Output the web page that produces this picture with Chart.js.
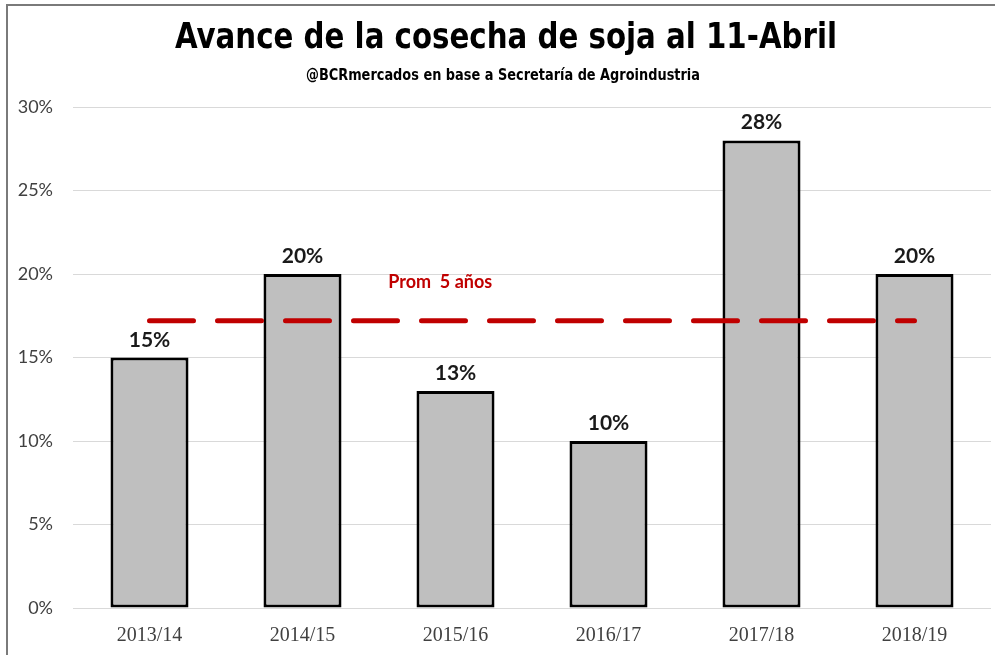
<!DOCTYPE html>
<html>
<head>
<meta charset="utf-8">
<script src="https://cdn.jsdelivr.net/npm/chart.js@4.4.1/dist/chart.umd.min.js"></script>
<style>
    html, body { margin: 0; padding: 0; background: #fff; }
    #wrap { position: relative; width: 995px; height: 655px; }
    #frame { position: absolute; left: 6px; top: 4px; right: -10px; bottom: -10px;
             border-top: 2px solid #7a7a7a; border-left: 2px solid #7a7a7a; pointer-events: none; }
</style>
</head>
<body>
<div id="wrap">
    <canvas id="myChart" width="995" height="655"></canvas>
    <div id="frame"></div>
</div>
<script>
// Campañas y avance de cosecha (%)
const campanias = ['2013/14', '2014/15', '2015/16', '2016/17', '2017/18', '2018/19'];
const avance = [15, 20, 13, 10, 28, 20];
// Promedio de 5 años
const promedio = [17.2, 17.2, 17.2, 17.2, 17.2, 17.2];
const yTicks = [0, 5, 10, 15, 20, 25, 30];

const titulo = 'Avance de la cosecha de soja al 11-Abril';
const subtitulo = '@BCRmercados en base a Secretaría de Agroindustria';

// condensed bold text, squeezed to a given width
function drawCondensed(ctx, text, font, cx, baseline, width) {
    ctx.save();
    ctx.font = font;
    const w = ctx.measureText(text).width;
    const k = Math.min(1, width / w);
    ctx.translate(cx, baseline);
    ctx.scale(k, 1);
    ctx.textAlign = 'center';
    ctx.textBaseline = 'alphabetic';
    ctx.fillStyle = '#000';
    ctx.fillText(text, 0, 0);
    ctx.restore();
}

const titlePlugin = {
    id: 'titlePlugin',
    afterDraw(chart) {
        const ctx = chart.ctx;
        drawCondensed(ctx, titulo, 'bold 35px "DejaVu Sans Condensed", "DejaVu Sans"', 506, 48, 662);
        drawCondensed(ctx, subtitulo, 'bold 16px "DejaVu Sans Condensed", "DejaVu Sans"', 503, 80, 394);
    }
};

// Draw the value labels on top of the bars and the average label
const labelsPlugin = {
    id: 'labelsPlugin',
    afterDatasetsDraw(chart) {
        const ctx = chart.ctx;
        const meta = chart.getDatasetMeta(0);
        ctx.save();
        ctx.font = 'bold 21px Lato';
        ctx.fillStyle = '#1a1a1a';
        ctx.textAlign = 'center';
        ctx.textBaseline = 'alphabetic';
        meta.data.forEach((bar, i) => {
            ctx.fillText(avance[i] + '%', bar.x, bar.y - 11);
        });
        const x = chart.scales.x.getPixelForValue(1.9);
        const y = chart.scales.y.getPixelForValue(19.5);
        ctx.font = 'bold 18px Lato';
        ctx.fillStyle = '#C00000';
        ctx.textBaseline = 'middle';
        ctx.fillText('Prom  5 años', x, y);
        ctx.restore();
    }
};

const ctx = document.getElementById('myChart').getContext('2d');
new Chart(ctx, {
    data: {
        labels: campanias,
        datasets: [{
            type: 'bar',
            label: 'Avance',
            data: avance,
            backgroundColor: '#BFBFBF',
            borderColor: '#000000',
            borderWidth: 3,
            borderSkipped: false,
            categoryPercentage: 1.0,
            barPercentage: 0.51,
            order: 2
        },
        {
            type: 'line',
            label: 'Prom 5 años',
            data: promedio,
            borderColor: '#C00000',
            borderWidth: 5,
            borderDash: [44, 24],
            borderCapStyle: 'round',
            pointRadius: 0,
            fill: false,
            order: 1
        }]
    },
    options: {
        responsive: false,
        animation: false,
        layout: {
            padding: { left: 0, right: 4, top: 107, bottom: 8 }
        },
        plugins: {
            legend: { display: false },
            tooltip: { enabled: false },
            title: { display: false }
        },
        scales: {
            x: {
                afterFit(scale) { scale.height = 39; },
                grid: { display: false },
                border: { display: false },
                ticks: {
                    color: '#404040',
                    font: { family: 'Liberation Serif', size: 20 },
                    padding: 8
                }
            },
            y: {
                min: 0,
                max: 30,
                afterFit(scale) { scale.width = 73; },
                afterBuildTicks(scale) { scale.ticks = yTicks.map(v => ({ value: v })); },
                grid: { color: '#d9d9d9', lineWidth: 1, drawTicks: false },
                border: { display: false },
                ticks: {
                    color: '#404040',
                    font: { family: 'Lato', size: 18 },
                    padding: 20,
                    callback: v => v + '%'
                }
            }
        }
    },
    plugins: [labelsPlugin, titlePlugin]
});
</script>
</body>
</html>
